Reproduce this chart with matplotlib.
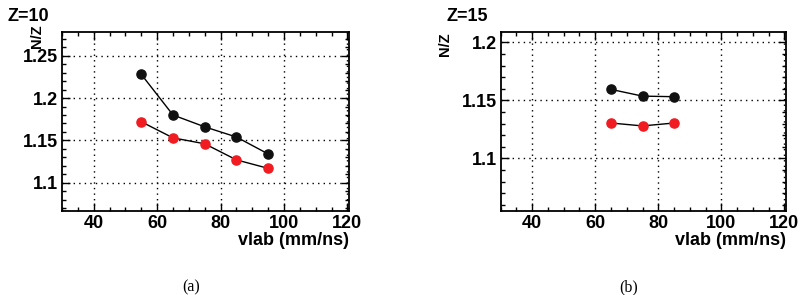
import numpy as np
import matplotlib
matplotlib.use("Agg")
import matplotlib.pyplot as plt
from matplotlib.ticker import MultipleLocator

# Z=10 panel
vlab_a = [55, 65, 75, 85, 95]
nz_black_a = [1.228, 1.180, 1.166, 1.154, 1.134]
nz_red_a = [1.172, 1.153, 1.146, 1.127, 1.117]

# Z=15 panel
vlab_b = [65, 75, 85]
nz_black_b = [1.1595, 1.1537, 1.1532]
nz_red_b = [1.1305, 1.1280, 1.1305]

plt.rcParams['font.family'] = ['Liberation Sans', 'DejaVu Sans']
plt.rcParams['font.weight'] = 'bold'

RED = '#f01c22'
FS = 13

fig = plt.figure(figsize=(8.03, 2.95), dpi=100)


def panel(rect, x, yb, yr, ylim, ylab_x, ylab_y, title, sub):
    ax = fig.add_axes(rect)
    ax.plot(x, yb, '-', color='black', lw=1.0, marker='o', ms=6.6,
            mfc='#111111', mec='#111111', zorder=3)
    ax.plot(x, yr, '-', color='black', lw=1.0, marker='o', ms=6.6,
            mfc=RED, mec=RED, zorder=3)
    ax.set_xlim(30, 120.5)
    ax.set_ylim(*ylim)
    ax.xaxis.set_major_locator(MultipleLocator(20))
    ax.xaxis.set_minor_locator(MultipleLocator(5))
    ax.yaxis.set_major_locator(MultipleLocator(0.05))
    ax.yaxis.set_minor_locator(MultipleLocator(0.01))
    ax.yaxis.set_major_formatter(plt.FuncFormatter(lambda v, p: ('%.2f' % v).rstrip('0')))
    ax.tick_params(which='both', direction='in', top=True, right=True,
                   labelsize=FS, width=1.0)
    ax.tick_params(which='major', length=6, pad=3)
    ax.tick_params(which='minor', length=3)
    for lab in ax.get_xticklabels() + ax.get_yticklabels():
        lab.set_fontweight('bold')
    ax.grid(True, which='major', color='black', linestyle=(0, (1, 3)), lw=1.0)
    for s in ax.spines.values():
        s.set_linewidth(1.3)
    ax.set_xlabel('vlab (mm/ns)', fontsize=FS, fontweight='bold', loc='right', labelpad=0)
    ax.set_ylabel('N/Z', fontsize=10.5, fontweight='bold', loc='top')
    ax.yaxis.set_label_coords(ylab_x, ylab_y)
    fig.text(rect[0] - 0.068, 0.945, title, fontsize=FS, fontweight='bold',
             ha='left', va='center')
    fig.text(rect[0] + rect[2] * 0.45, 0.027, sub, fontsize=11.5,
             family='Liberation Serif', fontweight='normal', ha='center', va='center')
    return ax


panel([0.0772, 0.2847, 0.3574, 0.6068], vlab_a, nz_black_a, nz_red_a,
      (1.0666, 1.278), -0.063, 1.045, 'Z=10', '(a)')
panel([0.6235, 0.2847, 0.3553, 0.6068], vlab_b, nz_black_b, nz_red_b,
      (1.0546, 1.209), -0.169, 1.0, 'Z=15', '(b)')

fig.savefig('out.png', dpi=100)
